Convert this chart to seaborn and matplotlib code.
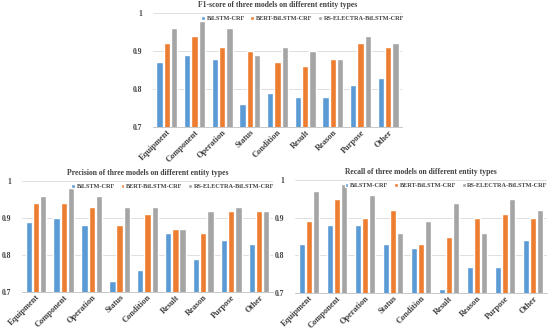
import pandas as pd
import matplotlib
matplotlib.use("Agg")
import matplotlib.pyplot as plt
import seaborn as sns

types = ['Equipment', 'Component', 'Operation', 'Status', 'Condition',
         'Result', 'Reason', 'Purpose', 'Other']
models = ['BiLSTM-CRF', 'BERT-BiLSTM-CRF', 'RS-ELECTRA-BiLSTM-CRF']

f1_bilstm = [0.87, 0.89, 0.88, 0.76, 0.79, 0.78, 0.78, 0.81, 0.83]
f1_bert = [0.92, 0.94, 0.91, 0.90, 0.87, 0.86, 0.88, 0.92, 0.91]
f1_rs = [0.96, 0.98, 0.96, 0.89, 0.91, 0.90, 0.88, 0.94, 0.92]

prec_bilstm = [0.89, 0.90, 0.88, 0.73, 0.76, 0.86, 0.79, 0.84, 0.83]
prec_bert = [0.94, 0.94, 0.93, 0.88, 0.91, 0.87, 0.86, 0.92, 0.92]
prec_rs = [0.96, 0.98, 0.96, 0.93, 0.93, 0.87, 0.92, 0.93, 0.92]

rec_bilstm = [0.83, 0.88, 0.88, 0.83, 0.82, 0.71, 0.77, 0.77, 0.84]
rec_bert = [0.89, 0.95, 0.90, 0.92, 0.83, 0.85, 0.90, 0.91, 0.90]
rec_rs = [0.97, 0.99, 0.96, 0.86, 0.89, 0.94, 0.86, 0.95, 0.92]

colors = ['#5B9BD5', '#ED7D31', '#A5A5A5']


def make_df(a, b, c):
    rows = []
    for m, vals in zip(models, [a, b, c]):
        for t, v in zip(types, vals):
            rows.append({'type': t, 'model': m, 'value': v})
    return pd.DataFrame(rows)


sns.set_style("white")
plt.rcParams['font.family'] = ['Liberation Serif', 'DejaVu Serif']
plt.rcParams['font.weight'] = 'bold'

fig = plt.figure(figsize=(5.5, 3.31), dpi=100)

panels = [
    ('F1-score of three models on different entity types',
     make_df(f1_bilstm, f1_bert, f1_rs),
     [153/550, 204/331, 249/550, 114/331]),
    ('Precision of three models on different entity types',
     make_df(prec_bilstm, prec_bert, prec_rs),
     [22/550, 39/331, 251/550, 111/331]),
    ('Recall of three models on different entity types',
     make_df(rec_bilstm, rec_bert, rec_rs),
     [295/550, 38/331, 252/550, 113/331]),
]

for title, df, rect in panels:
    ax = fig.add_axes(rect)
    sns.barplot(data=df, x='type', y='value', hue='model', palette=colors,
                width=0.78, gap=0.12, saturation=1, ax=ax, zorder=3)
    ax.set_ylim(0.7, 1.0)
    ax.set_yticks([0.7, 0.8, 0.9, 1.0])
    ax.set_yticklabels(['0.7', '0.8', '0.9', '1'])
    ax.set_xlim(-0.5, 8.5)
    ax.grid(axis='y', color='#D9D9D9', linewidth=0.6, zorder=0)
    for s in ['top', 'right', 'left']:
        ax.spines[s].set_visible(False)
    ax.spines['bottom'].set_color('#BFBFBF')
    ax.spines['bottom'].set_linewidth(0.6)
    ax.tick_params(axis='y', labelsize=5.5, length=0, pad=8, colors='#404040')
    ax.tick_params(axis='x', labelsize=6, length=0, pad=1, colors='#404040')
    plt.setp(ax.get_xticklabels(), rotation=45, ha='right',
             rotation_mode='anchor', fontweight='bold')
    plt.setp(ax.get_yticklabels(), fontweight='bold')
    ax.set_xlabel('')
    ax.set_ylabel('')
    ax.set_title(title, fontsize=5.5, fontweight='bold', color='#404040', pad=4)
    ax.legend(loc='upper center', bbox_to_anchor=(0.6, 1.0), ncol=3,
              frameon=False, fontsize=4.5, handlelength=0.6, handleheight=0.6,
              handletextpad=0.3, columnspacing=0.9, borderaxespad=0.1,
              labelcolor='#404040')

fig.savefig('out.png', dpi=100)
